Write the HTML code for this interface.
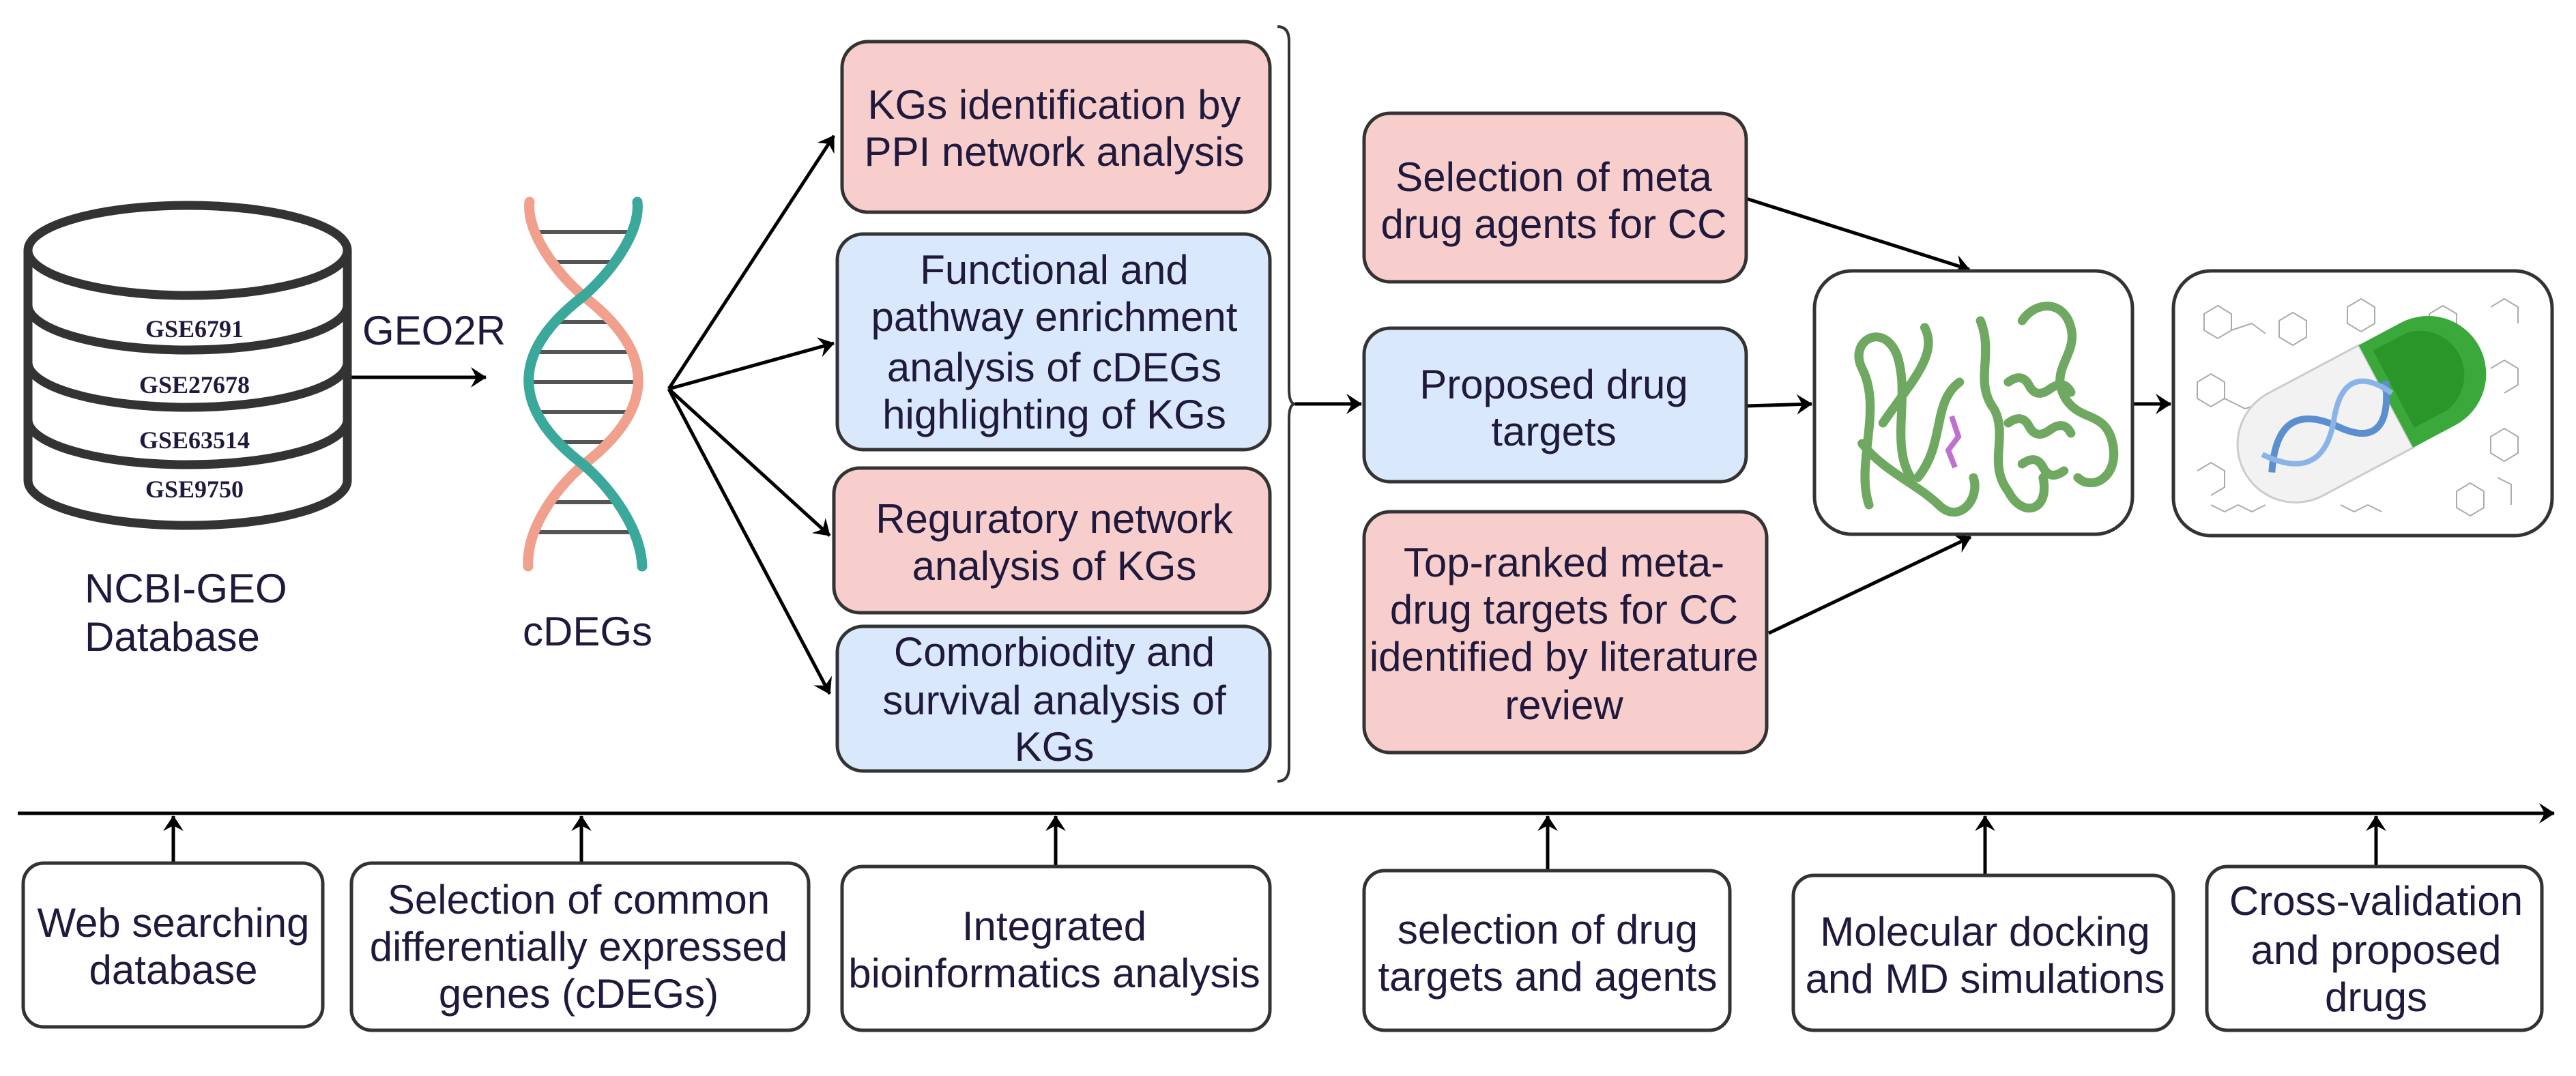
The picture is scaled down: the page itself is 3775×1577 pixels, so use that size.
<!DOCTYPE html>
<html><head><meta charset="utf-8"><style>
html,body{margin:0;padding:0;background:#fff}
svg{display:block}
.t{font-family:"Liberation Sans",Arial,sans-serif;font-size:60px;fill:#1f1a3d}
.g{font-family:"Liberation Serif",serif;font-size:36px;font-weight:bold;fill:#1f1a3d}
</style></head><body>
<svg width="3775" height="1577" viewBox="0 0 3775 1577" xmlns="http://www.w3.org/2000/svg">
<defs>
<marker id="a" markerWidth="10" markerHeight="10" refX="8" refY="5" orient="auto" markerUnits="userSpaceOnUse" viewBox="0 0 10 10" style="overflow:visible">
<path d="M-14,-10 L9,5 L-14,20 L-6,5 Z" fill="#000"/>
</marker>
</defs>
<g stroke="#000" stroke-width="5" fill="none" marker-end="url(#a)">
<line x1="510" y1="553" x2="712" y2="553"/>
<line x1="980" y1="570" x2="1222" y2="199"/>
<line x1="980" y1="570" x2="1222" y2="503"/>
<line x1="980" y1="570" x2="1216" y2="785"/>
<line x1="980" y1="570" x2="1216" y2="1017"/>
<line x1="1898" y1="592" x2="1995" y2="592"/>
<line x1="2559" y1="291" x2="2886" y2="395"/>
<line x1="2559" y1="595" x2="2655" y2="592"/>
<line x1="2592" y1="928" x2="2888" y2="787"/>
<line x1="3125" y1="592" x2="3181" y2="592"/>
<line x1="26" y1="1192" x2="3743" y2="1192"/>
<line x1="254" y1="1265" x2="254" y2="1196"/>
<line x1="852" y1="1265" x2="852" y2="1196"/>
<line x1="1547" y1="1270" x2="1547" y2="1196"/>
<line x1="2268" y1="1276" x2="2268" y2="1196"/>
<line x1="2909" y1="1283" x2="2909" y2="1196"/>
<line x1="3482" y1="1270" x2="3482" y2="1196"/>
</g>
<!-- cylinder -->
<g stroke="#333" stroke-width="13" fill="#fff">
<path d="M41,367 L41,704 A234,66 0 0 0 509,704 L509,367"/>
<ellipse cx="275" cy="367" rx="234" ry="66"/>
<path d="M41,447 A234,66 0 0 0 509,447" fill="none"/>
<path d="M41,531 A234,66 0 0 0 509,531" fill="none"/>
<path d="M41,615 A234,66 0 0 0 509,615" fill="none"/>
</g>
<text class="g" x="285" y="494" text-anchor="middle">GSE6791</text>
<text class="g" x="285" y="576" text-anchor="middle">GSE27678</text>
<text class="g" x="285" y="657" text-anchor="middle">GSE63514</text>
<text class="g" x="285" y="729" text-anchor="middle">GSE9750</text>
<!-- DNA -->
<g stroke="#555" stroke-width="6">
<line x1="785" y1="340" x2="925" y2="340"/>
<line x1="808" y1="384" x2="902" y2="384"/>
<line x1="820" y1="472" x2="890" y2="472"/>
<line x1="790" y1="516" x2="920" y2="516"/>
<line x1="780" y1="560" x2="930" y2="560"/>
<line x1="792" y1="604" x2="918" y2="604"/>
<line x1="822" y1="648" x2="888" y2="648"/>
<line x1="806" y1="736" x2="904" y2="736"/>
<line x1="785" y1="780" x2="925" y2="780"/>
</g>
<g fill="none" stroke-width="15" stroke-linecap="round">
<path d="M776,296 C771,340 815,400 855,434 C962,516 962,599 855,681 C815,715 771,775 774,830" stroke="#f0a08c"/>
<path d="M934,296 C939,340 895,400 855,434 C748,516 748,599 855,681 C895,715 939,775 941,830" stroke="#3aa89b"/>
</g>
<g class="t">
<text x="636" y="505" text-anchor="middle">GEO2R</text>
<text x="124" y="883">NCBI-GEO</text>
<text x="124" y="954">Database</text>
<text x="861" y="946" text-anchor="middle">cDEGs</text>
</g>
<!-- boxes -->
<g stroke="#333" stroke-width="5">
<rect x="1234" y="61" width="627" height="250" rx="38" fill="#f8cecc"/>
<rect x="1227" y="343" width="634" height="316" rx="38" fill="#dae8fc"/>
<rect x="1222" y="686" width="639" height="212" rx="38" fill="#f8cecc"/>
<rect x="1227" y="918" width="634" height="212" rx="38" fill="#dae8fc"/>
<rect x="1999" y="166" width="560" height="247" rx="38" fill="#f8cecc"/>
<rect x="1999" y="481" width="560" height="225" rx="38" fill="#dae8fc"/>
<rect x="1999" y="750" width="590" height="353" rx="38" fill="#f8cecc"/>
<rect x="2659" y="397" width="466" height="386" rx="55" fill="#fff"/>
<rect x="3185" y="397" width="555" height="388" rx="55" fill="#fff"/>
<rect x="34" y="1265" width="439" height="240" rx="30" fill="#fff"/>
<rect x="515" y="1265" width="670" height="245" rx="30" fill="#fff"/>
<rect x="1234" y="1270" width="627" height="240" rx="30" fill="#fff"/>
<rect x="1999" y="1276" width="536" height="234" rx="30" fill="#fff"/>
<rect x="2628" y="1283" width="557" height="227" rx="30" fill="#fff"/>
<rect x="3234" y="1270" width="491" height="240" rx="30" fill="#fff"/>
</g>
<!-- brace -->
<path d="M1872,39 Q1889,39 1889,60 L1889,570 Q1889,592 1898,592 Q1889,592 1889,614 L1889,1124 Q1889,1145 1872,1145" fill="none" stroke="#333" stroke-width="4"/>
<g class="t" text-anchor="middle">
<text x="1545" y="174">KGs identification by</text>
<text x="1545" y="243">PPI network analysis</text>
<text x="1545" y="416">Functional and</text>
<text x="1545" y="485">pathway enrichment</text>
<text x="1545" y="559">analysis of cDEGs</text>
<text x="1545" y="628">highlighting of KGs</text>
<text x="1545" y="781">Reguratory network</text>
<text x="1545" y="850">analysis of KGs</text>
<text x="1545" y="976">Comorbiodity and</text>
<text x="1545" y="1047">survival analysis of</text>
<text x="1545" y="1115">KGs</text>
<text x="2277" y="280">Selection of meta</text>
<text x="2277" y="349">drug agents for CC</text>
<text x="2277" y="584">Proposed drug</text>
<text x="2277" y="653">targets</text>
<text x="2292" y="845">Top-ranked meta-</text>
<text x="2292" y="914">drug targets for CC</text>
<text x="2292" y="983">identified by literature</text>
<text x="2292" y="1054">review</text>
<text x="254" y="1373">Web searching</text>
<text x="254" y="1442">database</text>
<text x="848" y="1339">Selection of common</text>
<text x="848" y="1408">differentially expressed</text>
<text x="848" y="1477">genes (cDEGs)</text>
<text x="1545" y="1378">Integrated</text>
<text x="1545" y="1447">bioinformatics analysis</text>
<text x="2268" y="1383">selection of drug</text>
<text x="2268" y="1452">targets and agents</text>
<text x="2909" y="1386">Molecular  docking</text>
<text x="2909" y="1455">and MD simulations</text>
<text x="3482" y="1341">Cross-validation</text>
<text x="3482" y="1413">and proposed</text>
<text x="3482" y="1482">drugs</text>
</g>
<!-- protein -->
<g transform="translate(-15,0) scale(1.02,1)" fill="none" stroke="#6fa860" stroke-width="13" stroke-linecap="round" stroke-linejoin="round">
<path d="M2700,740 C2680,680 2720,600 2690,540 C2670,500 2720,470 2740,520 C2760,580 2730,650 2760,700"/>
<path d="M2720,620 C2760,560 2800,520 2780,480 M2770,700 C2810,650 2790,590 2830,560"/>
<path d="M2690,650 C2720,690 2770,710 2800,740 C2830,770 2860,730 2850,700"/>
<path d="M2860,470 C2880,520 2850,560 2880,600 C2900,640 2870,680 2900,720 C2920,760 2960,750 2950,700"/>
<path d="M2920,470 C2940,440 2980,440 2990,480 C3000,520 2960,540 2980,580 C3000,620 3040,600 3050,650 C3060,700 3020,720 3000,700"/>
<path d="M2900,560 q20,-15 30,5 q10,20 30,5 q20,-15 30,5 M2900,620 q20,-15 30,5 q10,20 30,5 q20,-15 30,5 M2920,680 q20,-15 30,5 q10,20 30,5"/>
</g>
<path d="M2860,610 l10,30 l-15,20 l10,25" stroke="#c070d0" stroke-width="8" fill="none"/>
<!-- pill -->
<g stroke="#888" stroke-width="2" fill="none" opacity=".7">
<path d="M3230,460 l20,-12 l20,12 l0,24 l-20,12 l-20,-12 Z M3270,484 l30,-10 l20,15 M3340,470 l20,-12 l20,12 l0,24 l-20,12 l-20,-12 Z"/>
<path d="M3440,450 l20,-12 l20,12 l0,24 l-20,12 l-20,-12 Z M3560,460 l20,-12 l20,12 l0,24 l-20,12 l-20,-12 Z M3650,450 l20,-12 l20,12 l0,24"/>
<path d="M3220,560 l20,-12 l20,12 l0,24 l-20,12 l-20,-12 Z M3260,584 l30,15 l30,-10 M3650,540 l20,-12 l20,12 l0,24 l-20,12 M3650,640 l20,-12 l20,12 l0,24 l-20,12 l-20,-12 Z"/>
<path d="M3220,690 l20,-12 l20,12 l0,24 l-20,12 M3240,740 l20,10 l20,-10 l20,10 l20,-10 M3430,740 l20,10 l20,-10 l20,10 M3600,720 l20,-12 l20,12 l0,24 l-20,12 l-20,-12 Z M3660,700 l20,10 l0,30"/>
</g>
<g transform="translate(3470,595) rotate(-28)">
<path d="M-120,-85 L30,-85 L30,85 L-120,85 A85,85 0 0 1 -120,-85 Z" fill="#f2f2f2" stroke="#ccc" stroke-width="3"/>
<path d="M30,-85 L100,-85 A85,85 0 0 1 100,85 L30,85 Z" fill="#3aa83a"/>
<path d="M45,-68 L100,-68 A65,65 0 0 1 100,60 L45,60 Z" fill="#1f8a1f" opacity=".6"/>
<path d="M-170,20 C-130,-45 -90,-45 -50,10 C-10,60 20,30 40,-20" stroke="#5b8fd0" stroke-width="10" fill="none"/>
<path d="M-170,-10 C-130,45 -90,45 -50,-10 C-10,-60 20,-40 40,0" stroke="#8ab4e8" stroke-width="8" fill="none"/>
</g>
</svg>
</body></html>
